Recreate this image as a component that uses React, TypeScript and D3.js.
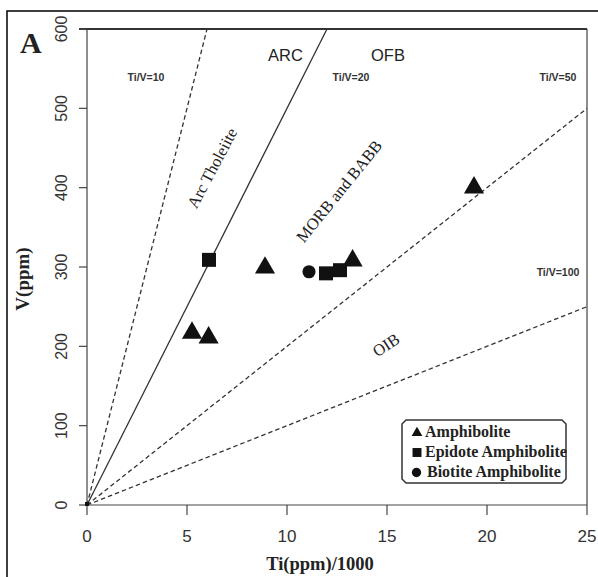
import React from "react";
import * as d3 from "d3";

// ---- data ----
const amphTi = [5.25, 6.08, 8.9, 13.28, 19.35];
const amphV = [217, 211, 299, 308, 400];
const epiTi = [6.1, 11.95, 12.65];
const epiV = [309, 292, 296];
const bioTi = [11.1];
const bioV = [294];
const ratios = [10, 20, 50, 100];
const ratioLabels = ["Ti/V=10", "Ti/V=20", "Ti/V=50", "Ti/V=100"];
const xTicks = [0, 5, 10, 15, 20, 25];
const yTicks = [0, 100, 200, 300, 400, 500, 600];
const legendLabels = ["Amphibolite", "Epidote Amphibolite", "Biotite Amphibolite"];

const W = 598, H = 577;
const x = d3.scaleLinear().domain([0, 25]).range([87, 587]);
const y = d3.scaleLinear().domain([0, 600]).range([505, 29]);

const SANS = "'Liberation Sans', Arial, sans-serif";
const SERIF = "'Liberation Serif', 'Times New Roman', serif";

const tri = d3.symbol().type(d3.symbolTriangle).size(175)()!;
const sq = d3.symbol().type(d3.symbolSquare).size(196)()!;
const circ = d3.symbol().type(d3.symbolCircle).size(135)()!;
const triS = d3.symbol().type(d3.symbolTriangle).size(50)()!;
const sqS = d3.symbol().type(d3.symbolSquare).size(80)()!;
const circS = d3.symbol().type(d3.symbolCircle).size(68)()!;

export default function App() {
  const line = d3.line<[number, number]>().x(d => x(d[0])).y(d => y(d[1]));
  const ratioLines = ratios.map(r => {
    const xmax = Math.min(25, (600 * r) / 1000);
    return line([[0, 0], [xmax, (xmax * 1000) / r]]) as string;
  });
  const ratioLabelPos: [number, number][] = [[2.95, 534], [13.2, 534], [23.55, 534], [23.55, 289]];

  const lx0 = 402, lx1 = 566, ly0 = 420, ly1 = 483, c = 4;
  const legendPath = `M${lx0 + c},${ly0}H${lx1 - c}L${lx1},${ly0 + c}V${ly1 - c}L${lx1 - c},${ly1}H${lx0 + c}L${lx0},${ly1 - c}V${ly0 + c}Z`;

  return (
    <svg width={W} height={H} style={{ position: "absolute", left: 0, top: 0, background: "#fff" }}>
      <rect x={0} y={0} width={W} height={H} fill="#fff" />
      <rect x={7} y={11} width={620} height={620} fill="none" stroke="#000" strokeWidth={1.5} />
      <text x={20} y={53} fontFamily={SERIF} fontWeight="bold" fontSize={30} fill="#222">A</text>

      <line x1={x(0)} x2={x(0)} y1={y(0)} y2={y(600)} stroke="#444" strokeWidth={1.2} />
      <line x1={x(0)} x2={x(25)} y1={y(0)} y2={y(0)} stroke="#444" strokeWidth={1.2} />
      <line x1={x(25)} x2={x(25)} y1={y(0)} y2={y(600)} stroke="#444" strokeWidth={1.2} />
      <line x1={x(0) - 8} x2={x(25)} y1={y(600)} y2={y(600)} stroke="#333" strokeWidth={2} />

      {yTicks.map(t => (
        <g key={"y" + t}>
          <line x1={x(0) - 8} x2={x(0)} y1={y(t)} y2={y(t)} stroke="#444" strokeWidth={1.2} />
          <text transform={`translate(67,${y(t)}) rotate(-90)`} textAnchor="middle" fontFamily={SANS} fontSize={16} fill="#333">{t}</text>
        </g>
      ))}
      {xTicks.map(t => (
        <g key={"x" + t}>
          <line x1={x(t)} x2={x(t)} y1={y(0)} y2={y(0) + 10} stroke="#444" strokeWidth={1.2} />
          <text x={x(t)} y={542} textAnchor="middle" fontFamily={SANS} fontSize={17} fill="#333">{t}</text>
        </g>
      ))}

      <text transform="translate(29,279) rotate(-90)" textAnchor="middle" fontFamily={SERIF} fontWeight="bold" fontSize={19} fill="#222">V(ppm)</text>
      <text x={320} y={570} textAnchor="middle" fontFamily={SERIF} fontWeight="bold" fontSize={18.5} fill="#222">Ti(ppm)/1000</text>

      {ratioLines.map((d, i) => (
        <path key={"l" + i} d={d} fill="none" stroke="#333" strokeWidth={1.3}
          strokeDasharray={ratios[i] === 20 ? undefined : "4.5,3"} />
      ))}
      {ratioLabels.map((s, i) => (
        <text key={"rl" + i} x={x(ratioLabelPos[i][0])} y={y(ratioLabelPos[i][1])} textAnchor="middle"
          fontFamily={SANS} fontWeight="bold" fontSize={10.5} fill="#333">{s}</text>
      ))}

      <text x={268} y={61} fontFamily={SANS} fontSize={16.5} fill="#222">ARC</text>
      <text x={371} y={61} fontFamily={SANS} fontSize={16.5} fill="#222">OFB</text>
      <text transform="translate(212,168) rotate(-62)" textAnchor="middle" dy="0.35em" fontFamily={SERIF} fontSize={16.5} fill="#222">Arc Tholeiite</text>
      <text transform="translate(339,191) rotate(-51)" textAnchor="middle" dy="0.35em" fontFamily={SERIF} fontSize={16.5} fill="#222">MORB and BABB</text>
      <text transform="translate(386,345) rotate(-33)" textAnchor="middle" dy="0.35em" fontFamily={SERIF} fontSize={16.5} fill="#222">OIB</text>

      {amphTi.map((t, i) => (
        <path key={"a" + i} d={tri} transform={`translate(${x(t)},${y(amphV[i])})`} fill="#111" />
      ))}
      {epiTi.map((t, i) => (
        <path key={"e" + i} d={sq} transform={`translate(${x(t)},${y(epiV[i])})`} fill="#111" />
      ))}
      {bioTi.map((t, i) => (
        <path key={"b" + i} d={circ} transform={`translate(${x(t)},${y(bioV[i])})`} fill="#111" />
      ))}
      <rect x={x(0) - 2} y={y(0) - 3} width={4} height={4} fill="#111" />

      <path d={legendPath} fill="#fff" stroke="#333" strokeWidth={1.5} />
      <path d={triS} transform="translate(417,433)" fill="#111" />
      <path d={sqS} transform="translate(417,452.5)" fill="#111" />
      <path d={circS} transform="translate(416.5,472.5)" fill="#111" />
      {legendLabels.map((s, i) => (
        <text key={"lg" + i} x={i === 2 ? 427 : 425} y={437 + i * 20} fontFamily={SERIF} fontWeight="bold" fontSize={16} fill="#222">{s}</text>
      ))}
    </svg>
  );
}
